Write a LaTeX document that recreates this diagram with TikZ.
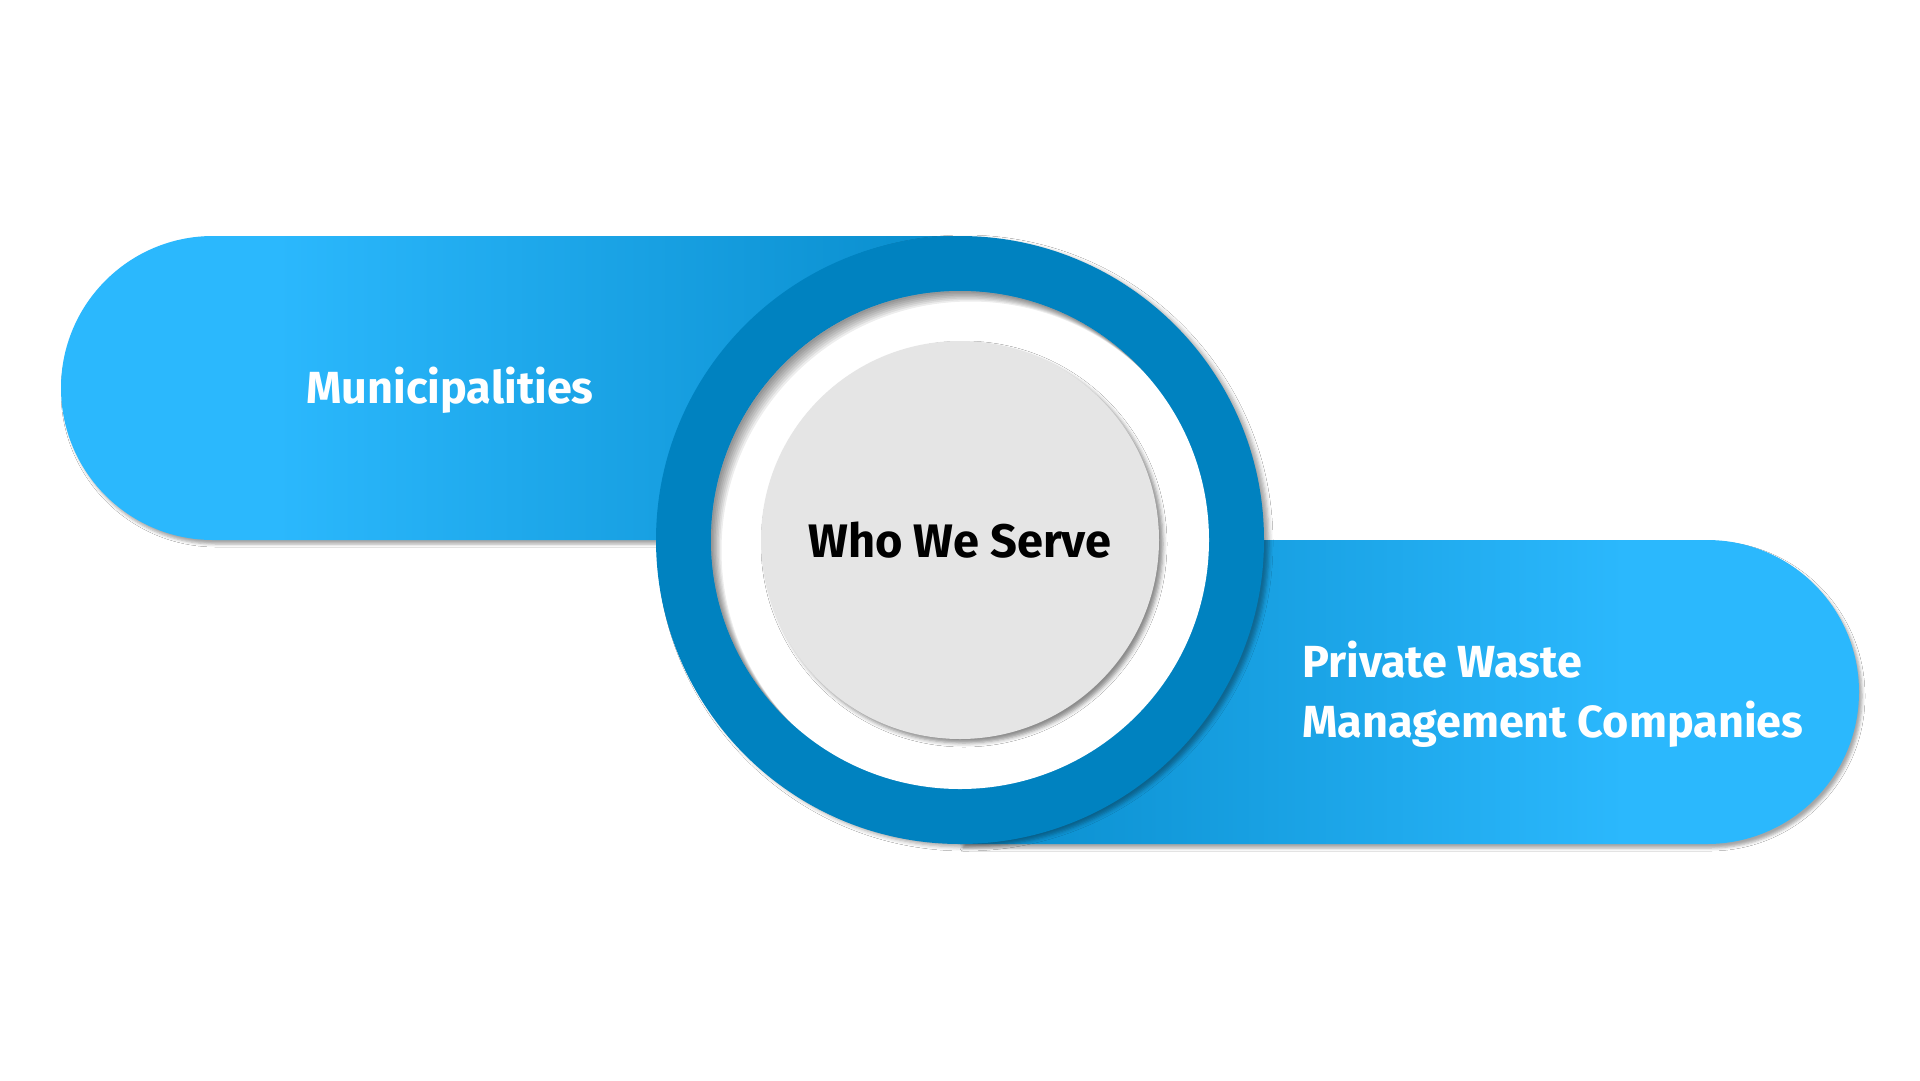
\documentclass[tikz,border=0pt]{standalone}
\usepackage{fontspec}
\setmainfont{Fira Sans}
\usepackage{tikz}
\usetikzlibrary{shapes, calc, shadows.blur}
\definecolor{lightblue}{RGB}{43,184,253}
\definecolor{ringblue}{RGB}{0,130,192}
\definecolor{discgrey}{RGB}{229,229,229}
\pgfdeclarehorizontalshading{bandleft}{100bp}{color(0bp)=(lightblue); color(37bp)=(lightblue); color(75bp)=(ringblue!80!lightblue); color(100bp)=(ringblue!80!lightblue)}
\pgfdeclarehorizontalshading{bandright}{100bp}{color(0bp)=(ringblue!80!lightblue); color(25bp)=(ringblue!80!lightblue); color(62bp)=(lightblue); color(100bp)=(lightblue)}

\begin{document}
\begin{tikzpicture}[x=1pt, y=-1pt]
 \tikzstyle{bandshadow} = [blur shadow={shadow xshift=3pt, shadow yshift=-4pt, shadow blur radius=3pt, shadow opacity=35}]
 \tikzstyle{ring} = [circle, fill=ringblue, minimum size=608pt, inner sep=0pt, blur shadow={shadow xshift=5pt, shadow yshift=-3pt, shadow blur radius=4pt, shadow opacity=35}]
 \tikzstyle{hole} = [circle, fill=white, minimum size=498pt, inner sep=0pt]
 \tikzstyle{disc} = [circle, fill=discgrey, minimum size=398pt, inner sep=0pt, text=black, font=\fontsize{47}{55}\selectfont\bfseries, blur shadow={shadow xshift=4pt, shadow yshift=-4pt, shadow blur radius=4pt, shadow opacity=45}]
 \tikzstyle{tag} = [text=white, inner sep=0pt, font=\fontsize{45}{53}\selectfont\bfseries]

 \fill[white] (0,0) rectangle (1920,1080);

 % bands
 \shade[bandshadow, shading=bandleft] (960,236) -- (213,236) arc[start angle=90, end angle=270, radius=152pt] -- (960,540) -- cycle;
 \shade[bandshadow, shading=bandright] (960,540) -- (1707,540) arc[start angle=90, end angle=-90, radius=152pt] -- (960,844) -- cycle;

 % ring and centre
 \node[ring] (ring) at (960,540) {};
 \node[hole] (hole) at (ring.center) {};
 \begin{scope}
  \clip (hole.center) circle[radius=249pt];
  \foreach \s in {1.5,3,...,10.5}
   \fill[black, opacity=0.07, even odd rule] (hole.center) circle[radius=262pt] ($(hole.center)+(\s,\s)$) circle[radius=249pt];
 \end{scope}
 \node[disc] (disc) at (ring.center) {Who We Serve};

 \node[tag, anchor=base] (muni) at (450,403) {Municipalities};
 \node[tag, anchor=base west] (private) at (1302,677) {Private Waste};
 \node[tag, anchor=base west] (mgmt) at ([yshift=-60pt]private.base west) {Management Companies};
\end{tikzpicture}
\end{document}
